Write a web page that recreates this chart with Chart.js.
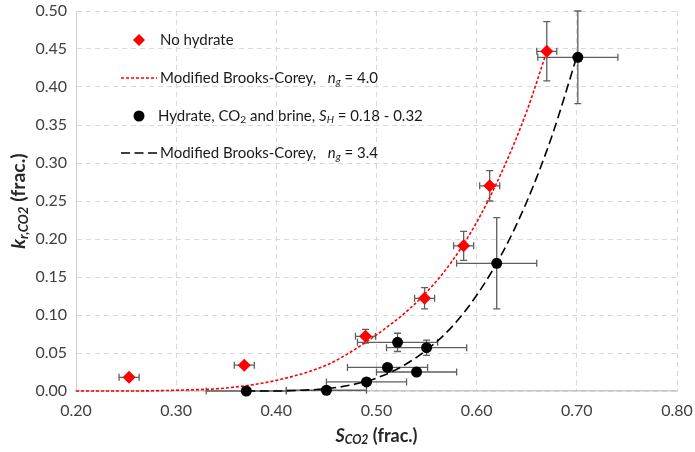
<!DOCTYPE html>
<html>
<head>
<meta charset="utf-8">
<script src="https://cdn.jsdelivr.net/npm/chart.js@4.4.1/dist/chart.umd.min.js"></script>
<style>
  html, body { margin: 0; padding: 0; background: #fff; }
  canvas { display: block; }
</style>
</head>
<body>
<canvas id="krChart" width="695" height="452"></canvas>
<script>
// kr,CO2 vs S_CO2 — measurements with error bars plus Brooks-Corey fits

const FONT = 'Lato, "Open Sans", sans-serif';

// ── Data ─────────────────────────────────────────────────────────────────────

const X_TICKS = [0.20, 0.30, 0.40, 0.50, 0.60, 0.70, 0.80];
const Y_TICKS = [0.00, 0.05, 0.10, 0.15, 0.20, 0.25, 0.30, 0.35, 0.40, 0.45, 0.50];

// No hydrate
const dryS     = [0.253, 0.368, 0.489, 0.548, 0.587, 0.613, 0.670];
const dryKr    = [0.018, 0.034, 0.072, 0.122, 0.191, 0.270, 0.447];
const dryErrS  = [0.010, 0.010, 0.010, 0.010, 0.010, 0.010, 0.010];
const dryErrKr = [0.003, 0.003, 0.009, 0.014, 0.019, 0.020, 0.039];

// Hydrate, CO2 and brine
const hydS     = [0.370, 0.450, 0.490, 0.511, 0.521, 0.540, 0.550, 0.620, 0.701];
const hydKr    = [0.000, 0.001, 0.012, 0.031, 0.064, 0.025, 0.057, 0.168, 0.439];
const hydErrS  = [0.040, 0.040, 0.040, 0.040, 0.040, 0.040, 0.040, 0.040, 0.040];
const hydErrKr = [0.000, 0.000, 0.000, 0.000, 0.012, 0.000, 0.010, 0.060, 0.061];

// Modified Brooks-Corey, ng = 4.0
const bcDryS  = [0.20, 0.25, 0.30, 0.35, 0.40, 0.45, 0.475, 0.50, 0.525, 0.55, 0.575, 0.60, 0.625, 0.65, 0.67];
const bcDryKr = [0.000, 0.000, 0.001, 0.004, 0.014, 0.034, 0.052, 0.074, 0.099, 0.130, 0.170, 0.222, 0.288, 0.368, 0.447];

// Modified Brooks-Corey, ng = 3.4
const bcHydS  = [0.37, 0.40, 0.425, 0.45, 0.475, 0.50, 0.525, 0.55, 0.575, 0.60, 0.625, 0.65, 0.675, 0.70];
const bcHydKr = [0.000, 0.000, 0.001, 0.003, 0.008, 0.017, 0.032, 0.054, 0.084, 0.126, 0.180, 0.249, 0.335, 0.440];

const pts = (xs, ys) => xs.map((x, i) => ({ x, y: ys[i] }));

// ── Text helpers (subscripts / italics) ──────────────────────────────────────

// parts: [text, flags]; flags may hold 'i' (italic) and 's' (subscript)
function setFont(ctx, flags, size, bold) {
    const sub = flags.includes('s');
    const fs = sub ? size * 0.68 : size;
    ctx.font = `${flags.includes('i') ? 'italic ' : ''}${bold ? 'bold ' : ''}${fs}px ${FONT}`;
    return sub;
}

function measureRich(ctx, parts, size, bold) {
    let w = 0;
    parts.forEach(([t, f = '']) => { setFont(ctx, f, size, bold); w += ctx.measureText(t).width; });
    return w;
}

function drawRich(ctx, parts, x, y, size, bold) {
    let cx = x;
    ctx.textAlign = 'left';
    ctx.textBaseline = 'middle';
    parts.forEach(([t, f = '']) => {
        const sub = setFont(ctx, f, size, bold);
        ctx.fillText(t, cx, sub ? y + size * 0.25 : y);
        cx += ctx.measureText(t).width;
    });
}

// ── Plugins ──────────────────────────────────────────────────────────────────

const errorBars = {
    id: 'errorBars',
    beforeDatasetsDraw(chart) {
        const { ctx, scales: { x, y } } = chart;
        const cap = 3.5;
        ctx.save();
        ctx.strokeStyle = '#5f5f5f';
        ctx.lineWidth = 1.3;
        chart.data.datasets.forEach(ds => {
            if (!ds.errS) return;
            ds.data.forEach((p, i) => {
                const px = x.getPixelForValue(p.x);
                const py = y.getPixelForValue(p.y);
                ctx.beginPath();
                if (ds.errS[i]) {
                    const x0 = x.getPixelForValue(p.x - ds.errS[i]);
                    const x1 = x.getPixelForValue(p.x + ds.errS[i]);
                    ctx.moveTo(x0, py); ctx.lineTo(x1, py);
                    ctx.moveTo(x0, py - cap); ctx.lineTo(x0, py + cap);
                    ctx.moveTo(x1, py - cap); ctx.lineTo(x1, py + cap);
                }
                if (ds.errKr[i]) {
                    const y0 = y.getPixelForValue(p.y - ds.errKr[i]);
                    const y1 = y.getPixelForValue(p.y + ds.errKr[i]);
                    ctx.moveTo(px, y0); ctx.lineTo(px, y1);
                    ctx.moveTo(px - cap, y0); ctx.lineTo(px + cap, y0);
                    ctx.moveTo(px - cap, y1); ctx.lineTo(px + cap, y1);
                }
                ctx.stroke();
            });
        });
        ctx.restore();
    }
};

const LEGEND_ITEMS = [
    { kind: 'diamond', y: 40, tx: 160, parts: [['No hydrate']] },
    { kind: 'dotted', y: 78, tx: 160, parts: [['Modified Brooks-Corey,   '], ['n', 'i'], ['g', 'is'], [' = 4.0']] },
    { kind: 'circle', y: 116, tx: 158, parts: [['Hydrate, CO'], ['2', 's'], [' and brine, '], ['S', 'i'], ['H', 'is'], [' = 0.18 - 0.32']] },
    { kind: 'dashed', y: 153, tx: 160, parts: [['Modified Brooks-Corey,   '], ['n', 'i'], ['g', 'is'], [' = 3.4']] },
];

const legendBox = {
    id: 'legendBox',
    afterDraw(chart) {
        const { ctx } = chart;
        ctx.save();
        LEGEND_ITEMS.forEach(it => {
            ctx.setLineDash([]);
            if (it.kind === 'diamond') {
                ctx.fillStyle = '#ff0000';
                ctx.beginPath();
                ctx.moveTo(139, it.y - 6); ctx.lineTo(145, it.y);
                ctx.lineTo(139, it.y + 6); ctx.lineTo(133, it.y);
                ctx.closePath(); ctx.fill();
            } else if (it.kind === 'circle') {
                ctx.fillStyle = '#000';
                ctx.beginPath(); ctx.arc(139, it.y, 5.5, 0, Math.PI * 2); ctx.fill();
            } else {
                ctx.strokeStyle = it.kind === 'dotted' ? '#ff0000' : '#000';
                ctx.lineWidth = 1.6;
                ctx.setLineDash(it.kind === 'dotted' ? [3, 2] : [9, 4.5]);
                ctx.beginPath(); ctx.moveTo(121, it.y); ctx.lineTo(157, it.y); ctx.stroke();
            }
            ctx.fillStyle = '#1a1a1a';
            drawRich(ctx, it.parts, it.tx, it.y, 15, false);
        });
        ctx.restore();
    }
};

const axisTitles = {
    id: 'axisTitles',
    afterDraw(chart) {
        const { ctx, chartArea: a } = chart;
        ctx.save();
        ctx.fillStyle = '#262626';
        const xt = [['S', 'i'], ['CO2', 'is'], [' (frac.)']];
        const xw = measureRich(ctx, xt, 18, true);
        drawRich(ctx, xt, (a.left + a.right) / 2 - xw / 2, 436, 18, true);

        const yt = [['k', 'i'], ['r,CO2', 'is'], [' (frac.)']];
        const yw = measureRich(ctx, yt, 19.5, true);
        ctx.translate(19, (a.top + a.bottom) / 2);
        ctx.rotate(-Math.PI / 2);
        drawRich(ctx, yt, -yw / 2, 0, 19.5, true);
        ctx.restore();
    }
};

// ── Chart ────────────────────────────────────────────────────────────────────

const tickFont = { family: FONT, size: 16 };
const gridStyle = { color: '#d9d9d9', lineWidth: 1, drawTicks: false };

new Chart(document.getElementById('krChart').getContext('2d'), {
    type: 'scatter',
    data: {
        datasets: [
            {
                label: 'No hydrate',
                data: pts(dryS, dryKr), errS: dryErrS, errKr: dryErrKr,
                pointStyle: 'rectRot', pointRadius: 6.5,
                backgroundColor: '#ff0000', borderColor: '#ff0000', borderWidth: 0,
                clip: false, order: 0,
            },
            {
                label: 'Hydrate, CO2 and brine',
                data: pts(hydS, hydKr), errS: hydErrS, errKr: hydErrKr,
                pointStyle: 'circle', pointRadius: 5.5,
                backgroundColor: '#000', borderColor: '#000', borderWidth: 0,
                clip: false, order: 0,
            },
            {
                label: 'Modified Brooks-Corey, ng = 4.0',
                data: pts(bcDryS, bcDryKr), showLine: true, pointRadius: 0,
                borderColor: '#ff0000', borderWidth: 1.6, borderDash: [3, 2],
                cubicInterpolationMode: 'monotone', clip: false, order: 1,
            },
            {
                label: 'Modified Brooks-Corey, ng = 3.4',
                data: pts(bcHydS, bcHydKr), showLine: true, pointRadius: 0,
                borderColor: '#000', borderWidth: 1.6, borderDash: [9, 4.5],
                cubicInterpolationMode: 'monotone', clip: false, order: 1,
            },
        ],
    },
    options: {
        responsive: false,
        animation: false,
        events: [],
        layout: { padding: { top: 11, right: 18, left: 0, bottom: 0 } },
        plugins: { legend: { display: false }, tooltip: { enabled: false } },
        scales: {
            x: {
                type: 'linear', min: 0.2, max: 0.8,
                afterBuildTicks: s => { s.ticks = X_TICKS.map(v => ({ value: v })); },
                afterFit: s => { s.height = 61; s.paddingLeft = 0; s.paddingRight = 0; },
                grid: gridStyle,
                border: { color: '#c8c8c8', width: 1.5, dash: [5, 4] },
                ticks: { font: tickFont, color: '#404040', padding: 10, maxRotation: 0,
                         callback: v => v.toFixed(2) },
            },
            y: {
                type: 'linear', min: 0, max: 0.5,
                afterBuildTicks: s => { s.ticks = Y_TICKS.map(v => ({ value: v })); },
                afterFit: s => { s.width = 76; s.paddingTop = 0; s.paddingBottom = 0; },
                grid: gridStyle,
                border: { color: '#d0d0d0', width: 1, dash: [5, 4] },
                ticks: { font: tickFont, color: '#404040', padding: 9,
                         callback: v => v.toFixed(2) },
            },
        },
    },
    plugins: [errorBars, legendBox, axisTitles],
});
</script>
</body>
</html>
